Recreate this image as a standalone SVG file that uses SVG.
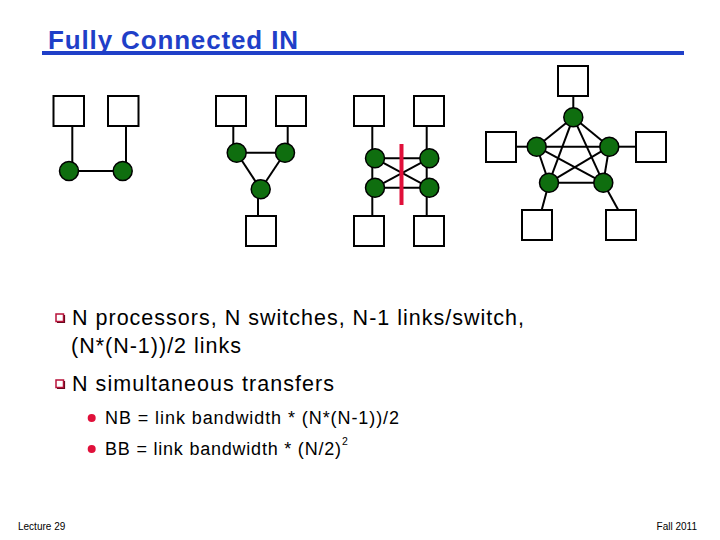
<svg xmlns="http://www.w3.org/2000/svg" width="720" height="540" viewBox="0 0 720 540">
<style>
.box{fill:#fff;stroke:#000;stroke-width:2}
.sw{fill:#0f6e0f;stroke:#000;stroke-width:1.5}
.ln{stroke:#000;stroke-width:2;fill:none}
.t{font-family:"Liberation Sans",Arial,sans-serif;fill:#000}
.bul{fill:#fff;stroke:#b8123a;stroke-width:1.5}
.dot{fill:#e0103a}
</style>
<rect width="720" height="540" fill="#fff"/>
<g id="title">
<text x="48" y="49" font-family="Liberation Sans, Arial, sans-serif" font-size="26" font-weight="bold" fill="#1f3fc8" textLength="250" lengthAdjust="spacing">Fully Connected IN</text>
<rect x="42" y="51" width="642" height="4" fill="#1f3fc8"/>
</g>
<g id="connectors">
<line class="ln" x1="72.3" y1="126" x2="72.3" y2="171"/>
<line class="ln" x1="126" y1="126" x2="126" y2="171"/>
<line class="ln" x1="69" y1="171" x2="122.7" y2="171"/>
<line class="ln" x1="233.3" y1="126" x2="233.3" y2="152.7"/>
<line class="ln" x1="287.7" y1="126" x2="287.7" y2="152.7"/>
<line class="ln" x1="236.7" y1="152.7" x2="285" y2="152.7"/>
<line class="ln" x1="236.7" y1="152.7" x2="260.7" y2="189.3"/>
<line class="ln" x1="285" y1="152.7" x2="260.7" y2="189.3"/>
<line class="ln" x1="258" y1="189.3" x2="258" y2="216"/>
<line class="ln" x1="372.3" y1="126" x2="372.3" y2="216"/>
<line class="ln" x1="426.7" y1="126" x2="426.7" y2="216"/>
<line class="ln" x1="375" y1="158.3" x2="429.3" y2="158.3"/>
<line class="ln" x1="375" y1="187.7" x2="429.3" y2="187.7"/>
<line class="ln" x1="375" y1="158.3" x2="429.3" y2="187.7"/>
<line class="ln" x1="375" y1="187.7" x2="429.3" y2="158.3"/>
<line class="ln" x1="573.3" y1="96" x2="573.3" y2="117.3"/>
<line class="ln" x1="516" y1="146.7" x2="536.7" y2="146.7"/>
<line class="ln" x1="609.3" y1="146.7" x2="636" y2="146.7"/>
<line class="ln" x1="549" y1="182.7" x2="541.7" y2="210"/>
<line class="ln" x1="603.3" y1="182.7" x2="618.3" y2="210"/>
<line class="ln" x1="573.3" y1="117.3" x2="536.7" y2="146.7"/>
<line class="ln" x1="573.3" y1="117.3" x2="609.3" y2="146.7"/>
<line class="ln" x1="573.3" y1="117.3" x2="549" y2="182.7"/>
<line class="ln" x1="573.3" y1="117.3" x2="603.3" y2="182.7"/>
<line class="ln" x1="536.7" y1="146.7" x2="609.3" y2="146.7"/>
<line class="ln" x1="536.7" y1="146.7" x2="549" y2="182.7"/>
<line class="ln" x1="536.7" y1="146.7" x2="603.3" y2="182.7"/>
<line class="ln" x1="609.3" y1="146.7" x2="549" y2="182.7"/>
<line class="ln" x1="609.3" y1="146.7" x2="603.3" y2="182.7"/>
<line class="ln" x1="549" y1="182.7" x2="603.3" y2="182.7"/>
</g>
<g id="net2">
<rect id="p1" class="box" x="53.5" y="96" width="30.5" height="30"/>
<rect id="p2" class="box" x="108" y="96" width="30.5" height="30"/>
<circle id="s1" class="sw" cx="69" cy="171" r="9.5"/>
<circle id="s2" class="sw" cx="122.7" cy="171" r="9.5"/>
</g>
<g id="net3">
<rect class="box" x="216" y="96" width="30" height="30"/>
<rect class="box" x="276" y="96" width="30" height="30"/>
<rect class="box" x="246" y="216" width="30" height="30"/>
<circle class="sw" cx="236.7" cy="152.7" r="9.5"/>
<circle class="sw" cx="285" cy="152.7" r="9.5"/>
<circle class="sw" cx="260.7" cy="189.3" r="9.5"/>
</g>
<g id="net4">
<rect class="box" x="354" y="96" width="30" height="30"/>
<rect class="box" x="414" y="96" width="30" height="30"/>
<rect class="box" x="354" y="216" width="30" height="30"/>
<rect class="box" x="414" y="216" width="30" height="30"/>
<circle class="sw" cx="375" cy="158.3" r="9.5"/>
<circle class="sw" cx="375" cy="187.7" r="9.5"/>
<circle class="sw" cx="429.3" cy="158.3" r="9.5"/>
<circle class="sw" cx="429.3" cy="187.7" r="9.5"/>
<rect id="bisection" x="399.5" y="144" width="4" height="61" fill="#e0103a"/>
</g>
<g id="net5">
<rect class="box" x="558" y="66" width="30" height="30"/>
<rect class="box" x="486" y="132" width="30" height="30"/>
<rect class="box" x="636" y="132" width="30" height="30"/>
<rect class="box" x="522" y="210" width="30" height="30"/>
<rect class="box" x="606" y="210" width="30" height="30"/>
<circle class="sw" cx="573.3" cy="117.3" r="9.5"/>
<circle class="sw" cx="536.7" cy="146.7" r="9.5"/>
<circle class="sw" cx="609.3" cy="146.7" r="9.5"/>
<circle class="sw" cx="549" cy="182.7" r="9.5"/>
<circle class="sw" cx="603.3" cy="182.7" r="9.5"/>
</g>
<g id="bullets">
<rect class="bul" x="56" y="314" width="7.5" height="7.5"/>
<path d="M57 322.5 H64.5 V315" stroke="#6a0a20" stroke-width="1.2" fill="none"/>
<text class="t" x="72" y="325" font-size="21.5" textLength="452" lengthAdjust="spacing">N processors, N switches, N-1 links/switch,</text>
<text class="t" x="71" y="353" font-size="21.5" textLength="170" lengthAdjust="spacing">(N*(N-1))/2 links</text>
<rect class="bul" x="56" y="380" width="7.5" height="7.5"/>
<path d="M57 388.5 H64.5 V381" stroke="#6a0a20" stroke-width="1.2" fill="none"/>
<text class="t" x="72" y="391" font-size="21.5" textLength="262" lengthAdjust="spacing">N simultaneous transfers</text>
<circle class="dot" cx="91.7" cy="418" r="4"/>
<text class="t" x="105" y="424" font-size="18" textLength="294" lengthAdjust="spacing">NB = link bandwidth * (N*(N-1))/2</text>
<circle class="dot" cx="91.7" cy="449" r="4"/>
<text class="t" x="105" y="455" font-size="18" textLength="236" lengthAdjust="spacing">BB = link bandwidth * (N/2)</text>
<text class="t" x="342" y="445" font-size="10.5">2</text>
</g>
<g id="footer">
<text class="t" x="18" y="530" font-size="10">Lecture 29</text>
<text class="t" x="697" y="530" font-size="10" text-anchor="end">Fall 2011</text>
</g>
</svg>
